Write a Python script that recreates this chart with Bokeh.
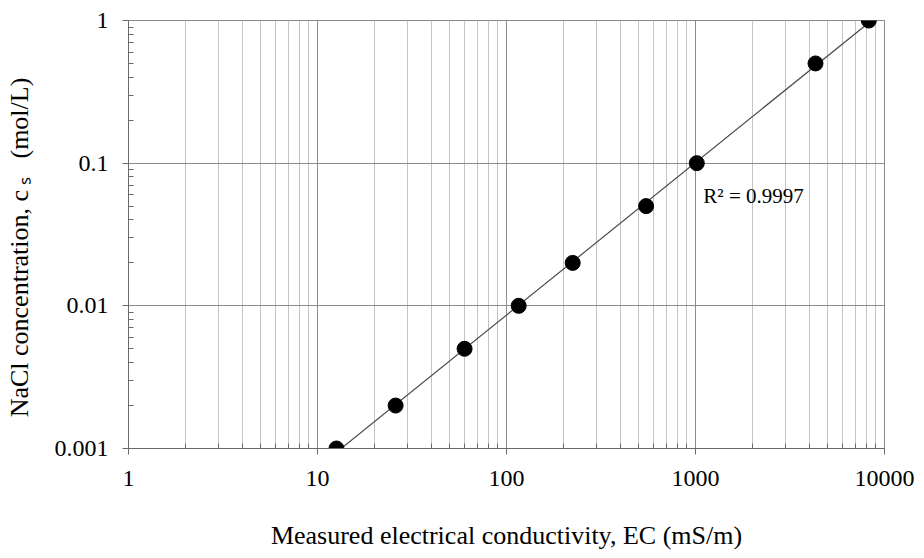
import numpy as np
from bokeh.plotting import figure
from bokeh.models import Range1d, FixedTicker, CustomJSTickFormatter, Label
from bokeh.embed import file_html
from bokeh.resources import INLINE

# Data
ec_ms_per_m = [12.6, 25.9, 60, 116, 224, 548, 1016, 4315, 8260]
nacl_mol_per_l = [0.001, 0.002, 0.005, 0.01, 0.02, 0.05, 0.1, 0.5, 1.0]
x_ticks = [1, 10, 100, 1000, 10000]
y_ticks = [0.001, 0.01, 0.1, 1]
r2_text = "R² = 0.9997"

FONT = "Liberation Serif"

p = figure(width=924, height=558, x_axis_type="log", y_axis_type="log",
           x_range=Range1d(1, 10000), y_range=Range1d(0.001, 1),
           output_backend="svg", toolbar_location=None,
           min_border_left=128, min_border_right=40, min_border_top=20, min_border_bottom=110)
p.background_fill_color = "white"
p.border_fill_color = "white"
p.outline_line_color = "#8a8a8a"
p.outline_line_width = 1

def minors(ticks):
    out = []
    for t in ticks[:-1]:
        out += [t * m for m in range(2, 10)]
    return out

xt = FixedTicker(ticks=x_ticks, minor_ticks=minors(x_ticks))
yt = FixedTicker(ticks=y_ticks, minor_ticks=minors(y_ticks))
fmt = CustomJSTickFormatter(code="return parseFloat(tick.toPrecision(1)).toString();")

p.xaxis.ticker = xt
p.yaxis.ticker = yt
p.xgrid.ticker = xt
p.ygrid.ticker = yt
p.xaxis.formatter = fmt
p.yaxis.formatter = fmt

p.xgrid.grid_line_color = "#8c8c8c"
p.xgrid.grid_line_width = 1
p.xgrid.minor_grid_line_color = "#c4c4c4"
p.xgrid.minor_grid_line_width = 1
p.ygrid.grid_line_color = "#8c8c8c"
p.ygrid.grid_line_width = 1
p.ygrid.minor_grid_line_color = None

for ax in (p.xaxis, p.yaxis):
    ax.axis_line_color = "#6a6a6a"
    ax.axis_line_width = 1
    ax.major_tick_line_color = "#6a6a6a"
    ax.minor_tick_line_color = "#6a6a6a"
    ax.major_tick_out = 6
    ax.major_tick_in = 0
    ax.minor_tick_in = 5
    ax.minor_tick_out = 0
    ax.major_label_text_font = FONT
    ax.major_label_text_font_size = "24px"
    ax.major_label_text_color = "black"
    ax.axis_label_text_font = FONT
    ax.axis_label_text_font_size = "26px"
    ax.axis_label_text_font_style = "normal"
    ax.axis_label_text_color = "black"

p.xaxis.axis_label = "Measured electrical conductivity, EC (mS/m)"
p.yaxis.axis_label = "NaCl concentration, c\u2009ₛ\u2002\u2009(mol/L)\u2003"
p.xaxis.major_label_standoff = 16
p.xaxis.axis_label_standoff = 32
p.yaxis.major_label_standoff = 14
p.yaxis.axis_label_standoff = 18

# Power-law fit (linear in log-log space)
lx = np.log10(ec_ms_per_m)
ly = np.log10(nacl_mol_per_l)
slope, intercept = np.polyfit(lx, ly, 1)
fx = [min(ec_ms_per_m), max(ec_ms_per_m)]
fy = [10 ** (intercept + slope * np.log10(v)) for v in fx]
p.line(fx, fy, line_color="#4a4a4a", line_width=1.2)

p.scatter(ec_ms_per_m, nacl_mol_per_l, size=15, marker="circle",
          fill_color="black", line_color="black")

p.add_layout(Label(x=1100, y=0.059, text=r2_text, text_font=FONT,
                   text_font_size="21px", text_color="black",
                   text_baseline="middle", text_align="left"))

open("out.html", "w").write(file_html(p, INLINE))
